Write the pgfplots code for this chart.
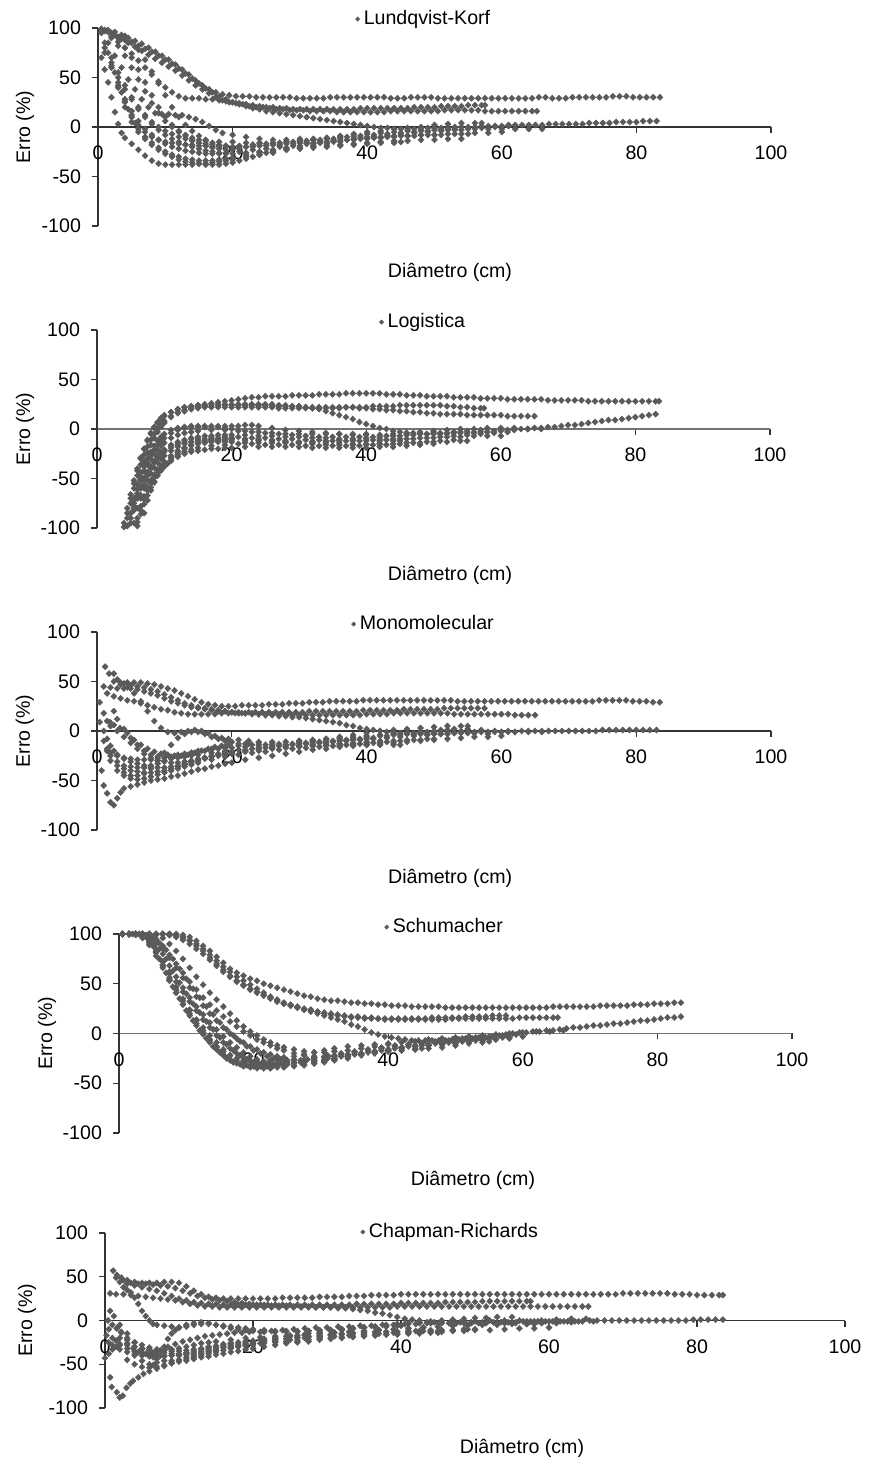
\documentclass[border=0pt]{standalone}
\usepackage{fontspec}
\setmainfont{Liberation Sans}
\usepackage{pgfplots}
\pgfplotsset{compat=1.18}
\definecolor{mk}{RGB}{90,90,90}
\newcommand{\fs}{\fontsize{9.8}{11}\selectfont}
\pgfplotsset{
 dp/.style={only marks, mark=diamond*, mark size=1.55pt, color=mk, mark options={fill=mk, draw=mk, line width=0.2pt, xscale=1.3}},
 panel/.style={scale only axis, clip=false, xmin=0, xmax=100, ymin=-100, ymax=100,
   axis x line=middle, axis y line=left, axis line style={-, line width=0.6pt, black!80},
   tick align=outside, major tick length=3pt, tick style={black!80, line width=0.6pt},
   xtick={0,20,40,60,80,100}, ytick={-100,-50,0,50,100},
   xticklabels={0,20,40,60,80,100}, yticklabels={-100,-50,0,50,100},
   hide obscured x ticks=false, hide obscured y ticks=false,
   font=\fs, tick label style={font=\fs},
   xticklabel style={yshift=-3pt}, yticklabel style={xshift=-2pt},
   xlabel={Diâmetro (cm)}, ylabel={Erro (\%)},
   legend style={draw=none, fill=none, anchor=west, inner sep=0pt, font=\fs},
   legend cell align=left,
   legend image code/.code={\draw[##1, mark size=1.1pt] plot coordinates {(0pt,0pt)};},
 }
}
\begin{document}
\begin{tikzpicture}
\path[use as bounding box] (0,0) rectangle (435pt,732pt);
% ---------------- Panel 1 ----------------
\begin{axis}[panel, anchor=south west, at={(49pt,619pt)}, width=336.5pt, height=99pt,
 every axis x label/.style={at={(axis description cs:0.523,-0.232)},anchor=center},
 every axis y label/.style={at={(axis description cs:-0.1085,0.5)},anchor=center,rotate=90},
 legend style={at={(axis description cs:0.382,1.045)}}]
\addplot[dp] coordinates {(0.5,99)(1.5,98)(2.5,96)(3.5,93)(4.5,90)(5.5,87)(6.5,84)(7.5,80)(8.5,76)(9.5,72)(10.5,68)(11.5,63)(12.5,58)(13.5,53)(14.5,47)(15.5,42)(16.5,38)(17.5,35)(18.5,33)(19.5,32)(20.5,31)(21.5,31)(22.5,31)(23.5,30)(24.5,30)(25.5,30)(26.5,30)(27.5,30)(28.5,30)(29.5,29)(30.5,29)(31.5,29)(32.5,29)(33.5,29)(34.5,30)(35.5,30)(36.5,30)(37.5,30)(38.5,30)(39.5,30)(40.5,30)(41.5,30)(42.5,30)(43.5,29)(44.5,29)(45.5,29)(46.5,30)(47.5,30)(48.5,30)(49.5,30)(50.5,29)(51.5,29)(52.5,29)(53.5,29)(54.5,29)(55.5,29)(56.5,29)(57.5,29)(58.5,29)(59.5,29)(60.5,29)(61.5,29)(62.5,29)(63.5,29)(64.5,29)(65.5,30)(66.5,30)(67.5,29)(68.5,29)(69.5,29)(70.5,30)(71.5,30)(72.5,30)(73.5,30)(74.5,30)(75.5,30)(76.5,31)(77.5,31)(78.5,31)(79.5,30)(80.5,30)(81.5,30)(82.5,30)(83.5,30)};
\addlegendentry{Lundqvist-Korf}
\addplot[dp] coordinates {(1,97)(2,92)(3,86)(4,80)(5,74)(6,67)(7,60)(8,53)(9,46)(10,40)(11,35)(12,31)(13,29)(14,29)(15,29)(16,28)(17,28)(18,27)(19,26)(20,25)(21,24)(22,23)(23,22)(24,21)(25,20)(26,20)(27,19)(28,19)(29,18)(30,18)(31,18)(32,18)(33,18)(34,18)(35,18)(36,18)(37,18)(38,18)(39,19)(40,19)(41,19)(42,19)(43,19)(44,19)(45,19)(46,19)(47,20)(48,20)(49,20)(50,20)(51,21)(52,21)(53,21)(54,21)(55,22)(56,22)(57,22)(57.5,22)};
\addplot[dp] coordinates {(0.5,99)(1.5,96)(2.5,93)(3.5,89)(4.5,85)(5.5,81)(6.5,77)(7.5,73)(8.5,69)(9.5,65)(10.5,61)(11.5,57)(12.5,52)(13.5,47)(14.5,42)(15.5,38)(16.5,34)(17.5,30)(18.5,27)(19.5,25)(20.5,24)(21.5,23)(22.5,21)(23.5,20)(24.5,20)(25.5,19)(26.5,18)(27.5,18)(28.5,17)(29.5,17)(30.5,17)(31.5,16)(32.5,16)(33.5,16)(34.5,16)(35.5,15)(36.5,15)(37.5,15)(38.5,15)(39.5,15)(40.5,15)(41.5,15)(42.5,15)(43.5,16)(44.5,16)(45.5,16)(46.5,16)(47.5,16)(48.5,16)(49.5,16)(50.5,16)(51.5,17)(52.5,17)(53.5,17)(54.5,17)(55.5,17)(56.5,17)(57.5,16)(58.5,16)(59.5,16)(60.5,16)(61.5,16)(62.5,16)(63.5,16)(64.5,16)(65.2,16)};
\addplot[dp] coordinates {(1,98)(2,95)(3,91)(4,88)(5,85)(6,82)(7,79)(8,76)(9,72)(10,68)(11,64)(12,59)(13,54)(14,49)(15,44)(16,39)(17,35)(18,31)(19,28)(20,25)(21,23)(22,21)(23,19)(24,18)(25,16)(26,15)(27,14)(28,13)(29,12)(30,11)(31,10)(32,9)(33,8)(34,7)(35,6)(36,5)(37,4)(38,3)(39,2)(40,1)(41,0)(42,-1)(43,-1)(44,-2)(45,-2)(46,-2)(47,-2)(48,-2)(49,-1)(50,-1)(51,-1)(52,-1)(53,0)(54,0)(55,0)(56,0)(57,1)(58,1)(59,1)(60,1)(61,2)(62,2)(63,2)(64,2)(65,2)(66,2)(67,3)(68,3)(69,3)(70,3)(71,3)(72,3)(73,4)(74,4)(75,4)(76,4)(77,5)(78,5)(79,5)(80,5)(81,6)(82,6)(83,6)};
\addplot[dp] coordinates {(0.5,95)(1.5,85)(2.5,72)(3.5,60)(4.5,48)(5.5,38)(6.5,28)(7.5,20)(8.5,14)(9.5,13)(10.5,13)(11.5,12)(12.5,12)(13.5,10)(14.5,8)(15.5,5)(16.5,1)(17.5,-3)(18.5,-6)(20,-8)(22,-10)(24,-12)(26,-13)(28,-13)(30,-12)(32,-12)(34,-11)(36,-10)(38,-8)(40,-7)(42,-6)(44,-5)(46,-4)(48,-4)(50,-3)(52,-3)(54,-3)(56,-2)(58,-2)(60,-2)(62,-2)(64,-2)(66,-2)};
\addplot[dp] coordinates {(0.5,70)(1,58)(1.5,45)(2,30)(2.5,15)(3,3)(3.5,-6)(4,-11)(5,-17)(6,-23)(7,-29)(8,-34)(9,-37)(10,-38)(11,-38)(12,-38)(13,-38)(14,-38)(15,-37)(16,-37)(17,-36)(18,-35)(19,-34)(20,-33)(22,-30)(24,-28)(26,-26)(28,-23)(30,-21)(32,-19)(34,-17)(36,-15)(38,-13)(40,-12)(42,-11)(44,-10)(46,-9)(48,-8)(50,-8)(52,-7)(54,-7)(56,-6)(58,-6)(60,-5)};
\addplot[dp] coordinates {(1,85)(1.5,75)(2,65)(2.5,55)(3,45)(3.5,35)(4,26)(4.5,18)(5,10)(5.5,4)(6,-2)(7,-10)(8,-16)(9,-21)(10,-25)(11,-28)(12,-30)(13,-32)(14,-33)(15,-34)(16,-34)(17,-34)(18,-33)(19,-32)(20,-31)(22,-28)(24,-26)(26,-24)(28,-22)(30,-21)(32,-20)(34,-19)(36,-18)(38,-17)(40,-16)(42,-15)(44,-14)(46,-14)(48,-13)(50,-13)(52,-12)(54,-12)};
\addplot[dp] coordinates {(1,75)(2,62)(3,50)(4,38)(5,28)(6,18)(7,10)(8,3)(9,-3)(10,-8)(11,-12)(12,-15)(13,-18)(14,-20)(15,-22)(16,-24)(17,-25)(18,-26)(19,-27)(20,-27)(22,-26)(24,-25)(26,-23)(28,-21)(30,-19)(32,-17)(34,-15)(36,-13)(38,-12)(40,-11)(42,-10)(44,-9)(46,-9)(48,-8)(50,-8)};
\addplot[dp] coordinates {(3,40)(4,20)(5,5)(6,-5)(7,-12)(8,-18)(9,-23)(10,-27)(11,-30)(12,-33)(13,-35)(14,-36)(15,-37)(16,-38)(17,-38)(18,-38)(19,-37)(20,-36)(21,-34)(22,-32)(23,-30)(24,-28)(25,-26)(26,-25)(28,-23)(30,-22)(32,-21)(34,-20)(36,-19)(38,-18)(40,-17)(42,-16)(44,-16)(45,-15)};
\addplot[dp] coordinates {(2,90)(3,82)(4,72)(5,60)(6,48)(7,36)(8,24)(9,14)(10,6)(11,0)(12,-5)(13,-9)(14,-13)(15,-16)(16,-19)(17,-21)(18,-22)(19,-23)(20,-23)(21,-22)(22,-20)(23,-18)(24,-17)(26,-16)(28,-15)(30,-14)(32,-13)(34,-12)(36,-11)(38,-10)(40,-10)};
\addplot[dp] coordinates {(2,60)(3,40)(4,25)(5,12)(6,2)(7,-5)(8,-10)(9,-13)(10,-15)(11,-16)(12,-17)(13,-18)(14,-18)(15,-19)(16,-19)(17,-20)(18,-20)(19,-20)(20,-20)(22,-20)(24,-19)(26,-18)(28,-17)(30,-16)(32,-16)(34,-15)(35,-15)};
\addplot[dp] coordinates {(3,90)(4,80)(5,70)(6,58)(7,45)(8,32)(9,20)(10,10)(11,2)(12,-4)(13,-8)(14,-11)(15,-13)(16,-14)(18,-15)(20,-15)(22,-16)(24,-16)(26,-16)(28,-15)(30,-14)(32,-13)(34,-11)(36,-9)(38,-7)(40,-5)(42,-4)(44,-2)(46,-1)(48,0)(50,2)(52,3)(54,4)(56,4)(57,4)};
\addplot[dp] coordinates {(1,80)(2,60)(3,42)(4,28)(5,16)(6,6)(7,-2)(8,-8)(9,-13)(10,-17)(11,-20)(12,-22)(13,-24)(14,-25)(15,-26)(16,-27)(17,-27)(18,-27)(19,-26)(21,-25)(23,-23)(25,-22)(27,-20)(29,-19)(31,-17)(33,-16)(35,-14)(37,-13)(39,-11)(41,-10)(43,-9)(45,-7)(47,-6)(49,-5)(51,-4)(53,-3)(55,-2)(57,-1)(59,0)};
\addplot[dp] coordinates {(4,92)(5,86)(6,78)(7,68)(8,56)(9,44)(10,32)(11,20)(12,10)(13,2)(14,-4)(15,-9)(16,-13)(17,-16)(18,-18)(19,-19)(21,-20)(23,-20)(25,-19)(27,-18)(29,-17)(31,-16)(33,-15)(35,-14)(37,-13)(39,-12)(41,-11)(43,-10)(45,-9)(47,-9)(49,-8)(51,-8)(53,-7)(55,-7)};
\addplot[dp] coordinates {(2,70)(3,55)(4,42)(5,30)(6,20)(7,12)(8,5)(9,0)(10,-4)(11,-7)(12,-10)(13,-12)(14,-14)(15,-16)(16,-17)(17,-18)(18,-19)(19,-19)(21,-19)(23,-18)(25,-17)(27,-16)(29,-15)(31,-14)(33,-13)(35,-12)(37,-10)(39,-9)(41,-8)(43,-7)(45,-6)(47,-5)(49,-4)(51,-3)(53,-2)(55,-1)(57,0)(59,1)(61,1)};
\end{axis}
% ---------------- Panel 2 ----------------
\begin{axis}[panel, anchor=south west, at={(48.5pt,468pt)}, width=336.5pt, height=99pt,
 x axis line style={black!55},
 every axis x label/.style={at={(axis description cs:0.5245,-0.237)},anchor=center},
 every axis y label/.style={at={(axis description cs:-0.107,0.5)},anchor=center,rotate=90},
 legend style={at={(axis description cs:0.419,1.040)}}]
\addplot[dp] coordinates {(4,-99)(4.5,-85)(5,-70)(5.5,-55)(6,-42)(6.5,-30)(7,-20)(7.5,-11)(8,-4)(8.5,2)(9,7)(9.5,11)(10,14)(11,17)(12,20)(13,22)(14,23)(15,24)(16,25)(17,26)(18,27)(19,28)(20,29)(21,30)(22,31)(23,32)(24,32)(25,33)(26,33)(27,33)(28,33)(29,34)(30,34)(31,34)(32,34)(33,35)(34,35)(35,35)(36,35)(37,36)(38,36)(39,36)(40,36)(41,36)(42,36)(43,35)(44,35)(45,35)(46,34)(47,34)(48,34)(49,33)(50,33)(51,33)(52,33)(53,32)(54,32)(55,32)(56,32)(57,31)(58,31)(59,31)(60,31)(61,30)(62,30)(63,30)(64,30)(65,30)(66,30)(67,29)(68,29)(69,29)(70,29)(71,29)(72,29)(73,28)(74,28)(75,28)(76,28)(77,28)(78,28)(79,28)(80,28)(81,28)(82,28)(83,28)(83.5,28)};
\addlegendentry{Logistica}
\addplot[dp] coordinates {(4,-95)(4.5,-80)(5,-66)(5.5,-52)(6,-40)(6.5,-29)(7,-20)(7.5,-12)(8,-5)(8.5,1)(9,6)(9.5,10)(10,13)(11,17)(12,20)(13,22)(14,23)(15,24)(16,24)(17,25)(18,25)(19,25)(20,25)(21,25)(22,25)(23,25)(24,25)(25,25)(26,25)(27,24)(28,24)(29,23)(30,23)(31,22)(32,21)(33,20)(34,18)(35,16)(36,14)(37,12)(38,10)(39,7)(40,5)(41,3)(42,1)(43,0)(44,-2)(45,-3)(46,-4)(47,-4)(48,-5)(49,-5)(50,-5)(51,-5)(52,-5)(53,-4)(54,-4)(55,-4)(56,-4)(57,-3)(58,-3)(59,-2)(60,-2)(61,-1)(62,-1)(63,0)(64,0)(65,1)(66,1)(67,2)(68,2)(69,3)(70,4)(71,4)(72,5)(73,6)(74,7)(75,8)(76,9)(77,9)(78,10)(79,11)(80,12)(81,13)(82,14)(83,15)};
\addplot[dp] coordinates {(4.5,-90)(5,-75)(5.5,-60)(6,-47)(6.5,-36)(7,-26)(7.5,-18)(8,-11)(8.5,-5)(9,0)(9.5,4)(10,8)(11,13)(12,17)(13,19)(14,21)(15,22)(16,23)(17,23)(18,24)(19,24)(20,24)(21,24)(22,24)(23,24)(24,24)(25,24)(26,23)(27,23)(28,23)(29,23)(30,23)(31,22)(32,22)(33,22)(34,22)(35,22)(36,22)(37,22)(38,22)(39,21)(40,21)(41,20)(42,20)(43,19)(44,19)(45,18)(46,18)(47,17)(48,17)(49,16)(50,16)(51,15)(52,15)(53,15)(54,15)(55,14)(56,14)(57,14)(58,14)(59,14)(60,14)(61,13)(62,13)(63,13)(64,13)(65,13)};
\addplot[dp] coordinates {(5,-85)(5.5,-70)(6,-56)(6.5,-44)(7,-33)(7.5,-24)(8,-16)(8.5,-9)(9,-3)(9.5,2)(10,6)(11,12)(12,16)(13,18)(14,20)(15,21)(16,22)(17,22)(18,22)(19,22)(20,22)(21,22)(22,22)(23,22)(24,22)(25,22)(26,22)(27,21)(28,21)(29,21)(30,21)(31,21)(32,21)(33,21)(34,21)(35,21)(36,21)(37,22)(38,22)(39,22)(40,22)(41,23)(42,23)(43,23)(44,23)(45,24)(46,24)(47,24)(48,24)(49,24)(50,24)(51,24)(52,23)(53,23)(54,22)(55,22)(56,21)(57,21)(57.5,21)};
\addplot[dp] coordinates {(5.5,-75)(6,-60)(6.5,-48)(7,-38)(7.5,-30)(8,-23)(8.5,-17)(9,-12)(9.5,-8)(10,-5)(11,-1)(12,1)(13,2)(14,3)(15,3)(16,3)(17,3)(18,3)(19,3)(20,3)(21,3)(22,4)(23,4)(24,3)(26,1)(28,-1)(30,-2)(32,-3)(34,-4)(36,-5)(38,-6)(40,-6)(42,-6)(44,-5)(46,-4)(48,-3)(50,-2)(52,-1)(54,0)(56,0)(58,1)(60,1)(62,1)(64,0)(66,0)};
\addplot[dp] coordinates {(5,-95)(5.5,-82)(6,-70)(6.5,-60)(7,-51)(7.5,-44)(8,-38)(8.5,-33)(9,-28)(9.5,-24)(10,-21)(11,-16)(12,-13)(13,-11)(14,-9)(15,-8)(16,-7)(17,-7)(18,-6)(19,-6)(20,-6)(22,-6)(24,-7)(26,-7)(28,-8)(30,-8)(32,-9)(34,-9)(36,-10)(38,-10)(40,-10)(42,-10)(44,-10)(46,-10)(48,-9)(50,-9)(52,-8)(54,-8)(56,-7)(58,-7)(60,-7)};
\addplot[dp] coordinates {(6,-90)(6.5,-78)(7,-68)(7.5,-59)(8,-52)(8.5,-46)(9,-41)(9.5,-37)(10,-33)(11,-27)(12,-22)(13,-19)(14,-16)(15,-14)(16,-13)(17,-12)(18,-11)(19,-11)(20,-10)(22,-10)(24,-10)(26,-11)(28,-12)(30,-13)(32,-13)(34,-14)(36,-14)(38,-15)(40,-15)(42,-15)(44,-15)(46,-14)(48,-14)(50,-13)(52,-13)(54,-12)(55,-12)};
\addplot[dp] coordinates {(6,-98)(6.5,-86)(7,-76)(7.5,-67)(8,-59)(8.5,-53)(9,-47)(9.5,-42)(10,-38)(10.5,-35)(11,-32)(12,-28)(13,-25)(14,-23)(15,-22)(16,-21)(17,-20)(18,-20)(19,-19)(20,-19)(22,-18)(24,-18)(26,-18)(28,-18)(30,-18)(32,-19)(34,-19)(36,-19)(38,-19)(40,-19)(42,-18)(44,-18)(46,-17)(48,-16)(50,-15)};
\addplot[dp] coordinates {(5,-90)(5.5,-78)(6,-67)(6.5,-58)(7,-50)(7.5,-44)(8,-38)(8.5,-33)(9,-29)(9.5,-26)(10,-23)(11,-19)(12,-16)(13,-14)(14,-13)(15,-12)(16,-12)(17,-11)(18,-11)(19,-11)(20,-11)(22,-12)(24,-12)(26,-12)(28,-13)(30,-13)(32,-13)(34,-12)(36,-12)(38,-12)(40,-12)(42,-12)(44,-12)(45,-12)};
\addplot[dp] coordinates {(5.5,-80)(6,-65)(6.5,-52)(7,-42)(7.5,-34)(8,-27)(8.5,-21)(9,-16)(9.5,-12)(10,-9)(11,-4)(12,-1)(13,1)(14,2)(15,2)(16,2)(17,2)(18,2)(19,1)(20,0)(22,-2)(24,-3)(26,-4)(28,-5)(30,-5)(32,-5)(34,-5)(36,-5)(38,-5)(40,-5)};
\addplot[dp] coordinates {(6.5,-70)(7,-60)(7.5,-52)(8,-45)(8.5,-39)(9,-34)(9.5,-30)(10,-27)(11,-22)(12,-18)(13,-15)(14,-13)(15,-11)(16,-10)(17,-10)(18,-9)(19,-9)(20,-9)(22,-10)(24,-11)(26,-12)(28,-13)(30,-14)(32,-15)(34,-16)(36,-16)(38,-16)(40,-16)(42,-15)};
\addplot[dp] coordinates {(7,-85)(7.5,-72)(8,-62)(8.5,-54)(9,-47)(9.5,-41)(10,-36)(11,-29)(12,-24)(13,-20)(14,-17)(15,-15)(16,-14)(17,-13)(18,-13)(19,-13)(20,-13)(22,-14)(24,-14)(26,-14)(28,-14)(30,-14)(32,-13)(34,-12)(36,-11)(38,-10)(40,-9)(42,-8)(44,-7)(46,-6)(48,-5)(50,-4)(52,-4)(54,-3)(56,-3)(58,-3)};
\addplot[dp] coordinates {(5.5,-95)(6,-80)(6.5,-67)(7,-56)(7.5,-47)(8,-40)(8.5,-34)(9,-29)(9.5,-25)(10,-22)(11,-17)(12,-14)(13,-12)(14,-10)(15,-9)(17,-8)(19,-8)(21,-8)(23,-9)(25,-9)(27,-10)(29,-10)(31,-11)(33,-11)(35,-12)(37,-12)(39,-12)(41,-11)(43,-11)(45,-10)(47,-10)(49,-9)(51,-8)(53,-7)(55,-6)(57,-5)(59,-4)(61,-3)};
\addplot[dp] coordinates {(4.5,-98)(5,-85)(5.5,-72)(6,-61)(6.5,-51)(7,-43)(7.5,-36)(8,-30)(8.5,-25)(9,-21)(9.5,-17)(10,-14)(11,-9)(12,-6)(13,-4)(14,-3)(15,-2)(17,-1)(19,-1)(21,-2)(23,-3)(25,-4)(27,-5)(29,-6)(31,-7)(33,-8)(35,-8)(37,-8)(39,-8)(41,-8)(43,-7)(45,-7)(47,-6)(49,-5)(51,-4)(53,-3)(55,-2)(57,-1)};
\addplot[dp] coordinates {(6,-94)(6.5,-82)(7,-71)(7.5,-62)(8,-55)(8.5,-49)(9,-44)(9.5,-40)(10,-36)(11,-30)(12,-26)(13,-23)(14,-21)(15,-19)(17,-17)(19,-16)(21,-15)(23,-15)(25,-16)(27,-16)(29,-16)(31,-17)(33,-17)(35,-17)(37,-17)(39,-17)(41,-16)(43,-16)(45,-15)(47,-14)(49,-13)(51,-12)(53,-11)};
\end{axis}
% ---------------- Panel 3 ----------------
\begin{axis}[panel, anchor=south west, at={(48.5pt,317pt)}, width=337pt, height=99pt,
 every axis x label/.style={at={(axis description cs:0.524,-0.242)},anchor=center},
 every axis y label/.style={at={(axis description cs:-0.107,0.5)},anchor=center,rotate=90},
 legend style={at={(axis description cs:0.377,1.040)}}]
\addplot[dp] coordinates {(1.2,65)(1.8,58)(2.5,50)(3.5,49)(4.5,49)(5.5,49)(6.5,49)(7.5,48)(8.5,47)(9.5,45)(10.5,43)(11.5,41)(12.5,38)(13.5,35)(14.5,32)(15.5,29)(16.5,27)(17.5,26)(18.5,25)(19.5,25)(20.5,25)(21.5,26)(22.5,26)(23.5,26)(24.5,26)(25.5,27)(26.5,27)(27.5,27)(28.5,28)(29.5,28)(30.5,28)(31.5,29)(32.5,29)(33.5,29)(34.5,30)(35.5,30)(36.5,30)(37.5,30)(38.5,30)(39.5,31)(40.5,31)(41.5,31)(42.5,31)(43.5,31)(44.5,31)(45.5,31)(46.5,31)(47.5,31)(48.5,31)(49.5,31)(50.5,31)(51.5,31)(52.5,31)(53.5,30)(54.5,30)(55.5,30)(56.5,30)(57.5,30)(58.5,30)(59.5,30)(60.5,30)(61.5,30)(62.5,30)(63.5,30)(64.5,30)(65.5,30)(66.5,30)(67.5,30)(68.5,30)(69.5,30)(70.5,30)(71.5,30)(72.5,30)(73.5,30)(74.5,31)(75.5,31)(76.5,31)(77.5,31)(78.5,31)(79.5,30)(80.5,30)(81.5,30)(82.5,29)(83.5,29)};
\addlegendentry{Monomolecular}
\addplot[dp] coordinates {(1,45)(2,44)(3,43)(4,43)(5,43)(6,42)(7,40)(8,38)(9,36)(10,33)(11,30)(12,28)(13,26)(14,24)(15,23)(16,22)(17,21)(18,20)(19,20)(20,19)(21,19)(22,18)(23,18)(24,17)(25,17)(26,17)(27,17)(28,16)(29,16)(30,16)(31,16)(32,16)(33,16)(34,16)(35,16)(36,16)(37,16)(38,16)(39,16)(40,17)(41,17)(42,17)(43,17)(44,18)(45,18)(46,18)(47,18)(48,18)(49,18)(50,18)(51,18)(52,18)(53,17)(54,17)(55,17)(56,17)(57,17)(58,17)(59,17)(60,17)(61,17)(62,16)(63,16)(64,16)(65,16)};
\addplot[dp] coordinates {(1.5,38)(2.5,35)(3.5,33)(4.5,31)(5.5,30)(6.5,28)(7.5,26)(8.5,24)(9.5,22)(10.5,21)(11.5,19)(12.5,18)(13.5,17)(14.5,17)(15.5,17)(16.5,17)(17.5,17)(18.5,18)(19.5,18)(20.5,18)(21.5,18)(22.5,19)(23.5,19)(24.5,19)(25.5,19)(26.5,19)(27.5,19)(28.5,19)(29.5,19)(30.5,19)(31.5,20)(32.5,20)(33.5,20)(34.5,20)(35.5,20)(36.5,20)(37.5,20)(38.5,20)(39.5,21)(40.5,21)(41.5,21)(42.5,21)(43.5,21)(44.5,21)(45.5,22)(46.5,22)(47.5,22)(48.5,22)(49.5,22)(50.5,22)(51.5,23)(52.5,23)(53.5,23)(54.5,23)(55.5,23)(56.5,23)(57.5,23)};
\addplot[dp] coordinates {(2.5,58)(3,52)(4,48)(5,46)(6,45)(7,44)(8,42)(9,40)(10,37)(11,34)(12,31)(13,28)(14,26)(15,24)(16,23)(17,22)(18,21)(19,20)(20,19)(21,18)(22,18)(23,17)(24,17)(25,16)(26,16)(27,15)(28,15)(29,14)(30,14)(31,13)(32,12)(33,11)(34,10)(35,9)(36,8)(37,6)(38,5)(39,3)(40,2)(41,1)(42,0)(43,-1)(44,-2)(45,-2)(46,-3)(47,-3)(48,-3)(49,-3)(50,-3)(51,-3)(52,-3)(53,-2)(54,-2)(55,-2)(56,-2)(57,-1)(58,-1)(59,-1)(60,-1)(61,-1)(62,-1)(63,0)(64,0)(65,0)(66,0)(67,0)(68,0)(69,0)(70,0)(71,0)(72,0)(73,0)(74,0)(75,1)(76,1)(77,1)(78,1)(79,1)(80,1)(81,1)(82,1)(83,1)};
\addplot[dp] coordinates {(3.5,47)(4.5,44)(5.5,38)(6.5,30)(7.5,20)(8.5,10)(9.5,3)(10.5,-1)(11.5,-2)(12.5,-1)(13.5,0)(14.5,1)(15.5,0)(16.5,-2)(17.5,-5)(18.5,-7)(19.5,-8)(21,-9)(22.5,-10)(24,-11)(26,-11)(28,-11)(30,-10)(32,-10)(34,-9)(36,-8)(38,-7)(40,-6)(42,-5)(44,-4)(46,-3)(48,-2)(50,-2)(52,-1)(54,-1)(56,-1)(58,-1)(60,-1)(62,-1)(64,-1)(66,-1)};
\addplot[dp] coordinates {(0.7,-40)(1,-55)(1.5,-63)(2,-72)(2.5,-75)(3,-68)(3.5,-62)(4,-58)(5,-56)(6,-54)(7,-52)(8,-50)(9,-49)(10,-48)(11,-46)(12,-45)(13,-43)(14,-41)(15,-39)(16,-38)(17,-36)(18,-35)(19,-33)(20,-32)(22,-29)(24,-27)(26,-25)(28,-23)(30,-21)(32,-19)(34,-18)(36,-16)(38,-15)(40,-14)(42,-13)(44,-12)(46,-11)(48,-10)(50,-9)(52,-8)(54,-7)(56,-6)(58,-6)(60,-5)};
\addplot[dp] coordinates {(0.4,29)(1,18)(1.5,10)(2,5)(3,0)(4,-6)(5,-12)(6,-18)(7,-23)(8,-27)(9,-30)(10,-31)(11,-32)(12,-32)(13,-31)(14,-30)(15,-28)(16,-27)(17,-26)(18,-24)(19,-23)(20,-22)(22,-20)(24,-18)(26,-16)(28,-14)(30,-12)(32,-10)(34,-8)(36,-6)(38,-4)(40,-2)(42,0)(44,1)(46,2)(48,3)(50,4)(52,5)(54,5)(55,5)};
\addplot[dp] coordinates {(0.4,9)(1,0)(1.5,-8)(2,-15)(2.5,-20)(3,-24)(4,-28)(5,-31)(6,-33)(7,-35)(8,-36)(9,-37)(10,-37)(11,-36)(12,-35)(13,-33)(14,-31)(15,-29)(16,-27)(17,-25)(18,-23)(19,-22)(20,-21)(22,-19)(24,-18)(26,-17)(28,-16)(30,-15)(32,-14)(34,-13)(36,-13)(38,-12)(40,-11)(42,-10)(44,-10)(46,-9)(48,-9)(50,-8)};
\addplot[dp] coordinates {(1.5,-20)(2,-22)(3,-25)(4,-27)(5,-28)(6,-29)(7,-29)(8,-29)(9,-28)(10,-27)(11,-26)(12,-24)(13,-23)(14,-22)(15,-21)(16,-20)(17,-19)(18,-18)(19,-17)(20,-17)(22,-16)(24,-16)(26,-15)(28,-15)(30,-15)(32,-15)(34,-15)(36,-15)(38,-14)(40,-14)(42,-14)(44,-14)(45,-14)};
\addplot[dp] coordinates {(4,-42)(5,-45)(6,-45)(7,-43)(8,-38)(9,-30)(10,-22)(11,-14)(12,-7)(13,-3)(14,-1)(15,-1)(16,-3)(17,-6)(18,-8)(19,-10)(20,-11)(22,-13)(24,-14)(26,-14)(28,-14)(30,-13)(32,-12)(34,-11)(36,-10)(38,-9)(40,-8)};
\addplot[dp] coordinates {(2,-30)(3,-35)(4,-38)(5,-40)(6,-41)(7,-42)(8,-42)(9,-41)(10,-40)(11,-38)(12,-36)(13,-34)(14,-32)(15,-30)(16,-28)(17,-26)(18,-25)(19,-24)(20,-23)(22,-21)(24,-20)(26,-18)(28,-17)(30,-16)(32,-15)(34,-14)(36,-13)(38,-13)(40,-12)(42,-12)};
\addplot[dp] coordinates {(1.9,9)(2.5,6)(3.4,3)(4.5,-2)(5.5,-9)(6.5,-14)(7.5,-18)(8.5,-21)(9.5,-23)(10.5,-24)(11.5,-25)(12.5,-25)(13.5,-24)(14.5,-22)(15.5,-20)(16.5,-18)(17.5,-16)(18.5,-15)(19.5,-14)(21,-13)(22.5,-13)(24,-12)(26,-12)(28,-11)(30,-10)(32,-9)(34,-8)(36,-7)(38,-6)(40,-5)(42,-4)(44,-3)(46,-2)(48,-1)(50,0)(52,1)(54,0)(56,-2)(58,-3)};
\addplot[dp] coordinates {(1,-10)(1.5,-18)(2,-25)(3,-31)(4,-35)(5,-36)(6,-37)(7,-37)(8,-35)(9,-33)(10,-30)(11,-28)(12,-27)(13,-26)(14,-25)(15,-24)(17,-22)(19,-20)(21,-19)(23,-18)(25,-17)(27,-15)(29,-14)(31,-13)(33,-12)(35,-11)(37,-10)(39,-9)(41,-8)(43,-7)(45,-6)(47,-5)(49,-4)(51,-3)(53,-2)(55,-1)(57,0)(59,0)(61,0)};
\addplot[dp] coordinates {(2.5,20)(3,12)(4,2)(5,-7)(6,-14)(7,-20)(8,-24)(9,-26)(10,-27)(11,-27)(12,-26)(13,-24)(14,-22)(15,-20)(17,-18)(19,-16)(21,-15)(23,-14)(25,-14)(27,-13)(29,-13)(31,-12)(33,-11)(35,-10)(37,-9)(39,-8)(41,-7)(43,-5)(45,-4)(47,-2)(49,-1)(51,1)(53,2)(55,2)(57,1)};
\addplot[dp] coordinates {(3,-40)(4,-45)(5,-48)(6,-49)(7,-48)(8,-46)(9,-44)(10,-42)(11,-40)(12,-38)(13,-36)(14,-34)(15,-32)(17,-29)(19,-26)(21,-24)(23,-22)(25,-21)(27,-19)(29,-18)(31,-17)(33,-16)(35,-15)(37,-14)(39,-13)(41,-12)(43,-11)(45,-10)(47,-9)(49,-8)};
\end{axis}
% ---------------- Panel 4 ----------------
\begin{axis}[panel, anchor=south west, at={(59.5pt,165.5pt)}, width=336.5pt, height=99.5pt,
 x axis line style={black!55},
 every axis x label/.style={at={(axis description cs:0.526,-0.236)},anchor=center},
 every axis y label/.style={at={(axis description cs:-0.107,0.5)},anchor=center,rotate=90},
 legend style={at={(axis description cs:0.394,1.035)}}]
\addplot[dp] coordinates {(0.5,100)(1.5,100)(2.5,100)(3.5,100)(4.5,100)(5.5,100)(6.5,100)(7.5,100)(8.5,100)(9.5,99)(10.5,97)(11.5,93)(12.5,88)(13.5,83)(14.5,77)(15.5,71)(16.5,65)(17.5,61)(18.5,58)(19.5,55)(20.5,53)(21.5,50)(22.5,48)(23.5,46)(24.5,44)(25.5,42)(26.5,40)(27.5,38)(28.5,37)(29.5,35)(30.5,34)(31.5,33)(32.5,33)(33.5,32)(34.5,31)(35.5,31)(36.5,30)(37.5,30)(38.5,29)(39.5,29)(40.5,28)(41.5,28)(42.5,28)(43.5,27)(44.5,27)(45.5,27)(46.5,27)(47.5,27)(48.5,26)(49.5,26)(50.5,26)(51.5,26)(52.5,26)(53.5,26)(54.5,26)(55.5,26)(56.5,26)(57.5,26)(58.5,26)(59.5,26)(60.5,26)(61.5,26)(62.5,26)(63.5,26)(64.5,27)(65.5,27)(66.5,27)(67.5,27)(68.5,27)(69.5,27)(70.5,27)(71.5,28)(72.5,28)(73.5,28)(74.5,28)(75.5,28)(76.5,29)(77.5,29)(78.5,29)(79.5,30)(80.5,30)(81.5,30)(82.5,31)(83.5,31)};
\addlegendentry{Schumacher}
\addplot[dp] coordinates {(0.5,100)(1.5,100)(2.5,100)(3.5,100)(4.5,100)(5.5,100)(6.5,100)(7.5,99)(8.5,98)(9.5,96)(10.5,93)(11.5,88)(12.5,83)(13.5,76)(14.5,70)(15.5,64)(16.5,58)(17.5,53)(18.5,49)(19.5,45)(20.5,42)(21.5,39)(22.5,36)(23.5,33)(24.5,30)(25.5,28)(26.5,26)(27.5,24)(28.5,23)(29.5,22)(30.5,20)(31.5,19)(32.5,18)(33.5,17)(34.5,16)(35.5,16)(36.5,15)(37.5,15)(38.5,15)(39.5,14)(40.5,14)(41.5,14)(42.5,14)(43.5,14)(44.5,14)(45.5,14)(46.5,14)(47.5,14)(48.5,14)(49.5,15)(50.5,15)(51.5,15)(52.5,15)(53.5,15)(54.5,15)(55.5,15)(56.5,15)(57.5,15)(58.5,15)(59.5,16)(60.5,16)(61.5,16)(62.5,16)(63.5,16)(64.5,16)(65.2,16)};
\addplot[dp] coordinates {(0.5,100)(1.5,100)(2.5,100)(3.5,100)(4.5,100)(5.5,100)(6.5,100)(7.5,100)(8.5,99)(9.5,97)(10.5,94)(11.5,90)(12.5,85)(13.5,79)(14.5,73)(15.5,67)(16.5,62)(17.5,57)(18.5,53)(19.5,49)(20.5,45)(21.5,41)(22.5,37)(23.5,34)(24.5,31)(25.5,29)(26.5,27)(27.5,25)(28.5,24)(29.5,22)(30.5,21)(31.5,20)(32.5,19)(33.5,18)(34.5,17)(35.5,17)(36.5,16)(37.5,16)(38.5,15)(39.5,15)(40.5,15)(41.5,15)(42.5,15)(43.5,15)(44.5,15)(45.5,15)(46.5,16)(47.5,16)(48.5,16)(49.5,16)(50.5,16)(51.5,17)(52.5,17)(53.5,17)(54.5,17)(55.5,18)(56.5,18)(57.5,18)};
\addplot[dp] coordinates {(0.5,100)(1.5,100)(2.5,100)(3.5,100)(4.5,100)(5.5,100)(6.5,100)(7.5,99)(8.5,97)(9.5,94)(10.5,90)(11.5,85)(12.5,80)(13.5,74)(14.5,68)(15.5,62)(16.5,57)(17.5,52)(18.5,48)(19.5,44)(20.5,41)(21.5,38)(22.5,35)(23.5,32)(24.5,30)(25.5,28)(26.5,26)(27.5,24)(28.5,22)(29.5,20)(30.5,18)(31.5,16)(32.5,14)(33.5,12)(34.5,9)(35.5,7)(36.5,4)(37.5,1)(38.5,-1)(39.5,-3)(40.5,-4)(41.5,-5)(42.5,-6)(43.5,-7)(44.5,-7)(45.5,-7)(46.5,-7)(47.5,-7)(48.5,-7)(49.5,-6)(50.5,-6)(51.5,-5)(52.5,-5)(53.5,-4)(54.5,-4)(55.5,-3)(56.5,-2)(57.5,-1)(58.5,0)(59.5,1)(60.5,1)(61.5,2)(62.5,2)(63.5,3)(64.5,3)(65.5,4)(66.5,5)(67.5,6)(68.5,6)(69.5,7)(70.5,8)(71.5,8)(72.5,9)(73.5,10)(74.5,10)(75.5,11)(76.5,12)(77.5,13)(78.5,13)(79.5,14)(80.5,15)(81.5,16)(82.5,16)(83.5,17)};
\addplot[dp] coordinates {(0.5,100)(1.5,100)(2.5,100)(3.5,100)(4.5,100)(5.5,99)(6.5,96)(7.5,90)(8.5,83)(9.5,75)(10.5,66)(11.5,57)(12.5,49)(13.5,41)(14.5,34)(15.5,27)(16.5,20)(17.5,13)(18.5,7)(19.5,2)(20.5,-2)(21.5,-6)(22.5,-9)(23.5,-12)(24.5,-14)(26,-16)(27.5,-18)(29,-19)(30.5,-19)(32,-18)(34,-17)(36,-15)(38,-13)(40,-11)(42,-9)(44,-8)(46,-6)(48,-5)(50,-4)(52,-3)(54,-2)(56,-1)(58,0)(60,1)(62,2)(64,2)(66,3)};
\addplot[dp] coordinates {(0.5,100)(1.5,100)(2.5,100)(3.5,100)(4.5,99)(5.5,95)(6.5,88)(7.5,79)(8.5,70)(9.5,61)(10.5,52)(11.5,44)(12.5,36)(13.5,29)(14.5,23)(15.5,17)(16.5,12)(17.5,7)(18.5,2)(19.5,-2)(20.5,-6)(21.5,-9)(22.5,-12)(23.5,-15)(24.5,-17)(26,-20)(27.5,-22)(29,-23)(30.5,-23)(32,-23)(34,-22)(36,-20)(38,-18)(40,-16)(42,-14)(44,-12)(46,-11)(48,-10)(50,-9)(52,-8)(54,-7)(56,-6)(58,-4)(60,-3)};
\addplot[dp] coordinates {(0.5,100)(1.5,100)(2.5,100)(3.5,99)(4.5,94)(5.5,85)(6.5,72)(7.5,60)(8.5,47)(9.5,35)(10.5,24)(11.5,13)(12.5,3)(13.5,-6)(14.5,-14)(15.5,-21)(16.5,-26)(17.5,-30)(18.5,-33)(19.5,-34)(20.5,-35)(21.5,-35)(22.5,-35)(23.5,-34)(24.5,-34)(26,-33)(27.5,-32)(29,-30)(30.5,-28)(32,-26)(34,-23)(36,-20)(38,-18)(40,-16)(42,-14)(44,-13)(46,-12)(48,-11)(50,-10)(52,-10)(54,-9)(55,-8)};
\addplot[dp] coordinates {(0.5,100)(1.5,100)(2.5,100)(3.5,98)(4.5,92)(5.5,83)(6.5,72)(7.5,62)(8.5,52)(9.5,42)(10.5,32)(11.5,23)(12.5,14)(13.5,6)(14.5,-2)(15.5,-9)(16.5,-15)(17.5,-20)(18.5,-24)(19.5,-27)(20.5,-29)(21.5,-31)(22.5,-32)(23.5,-32)(24.5,-32)(26,-32)(27.5,-31)(29,-30)(30.5,-29)(32,-27)(34,-25)(36,-22)(38,-20)(40,-18)(42,-17)(44,-16)(46,-15)(48,-14)(50,-12)};
\addplot[dp] coordinates {(0.5,100)(1.5,100)(2.5,100)(3.5,99)(4.5,96)(5.5,90)(6.5,80)(7.5,68)(8.5,57)(9.5,46)(10.5,36)(11.5,27)(12.5,19)(13.5,11)(14.5,4)(15.5,-3)(16.5,-9)(17.5,-14)(18.5,-19)(19.5,-23)(20.5,-26)(21.5,-28)(22.5,-29)(23.5,-30)(24.5,-30)(26,-30)(27.5,-29)(29,-28)(30.5,-27)(32,-25)(34,-23)(36,-21)(38,-19)(40,-18)(42,-17)(44,-16)(45,-15)};
\addplot[dp] coordinates {(0.5,100)(1.5,100)(2.5,99)(3.5,96)(4.5,89)(5.5,78)(6.5,66)(7.5,53)(8.5,41)(9.5,30)(10.5,20)(11.5,10)(12.5,1)(13.5,-7)(14.5,-13)(15.5,-18)(16.5,-22)(17.5,-25)(18.5,-27)(19.5,-28)(20.5,-28)(21.5,-28)(22.5,-27)(23.5,-26)(24.5,-25)(26,-23)(27.5,-21)(29,-19)(30.5,-17)(32,-15)(34,-13)(36,-12)(38,-11)(40,-10)};
\addplot[dp] coordinates {(0.5,100)(1.5,100)(2.5,100)(3.5,100)(4.5,98)(5.5,93)(6.5,85)(7.5,76)(8.5,66)(9.5,56)(10.5,46)(11.5,37)(12.5,28)(13.5,20)(14.5,13)(15.5,6)(16.5,0)(17.5,-5)(18.5,-9)(19.5,-13)(20.5,-16)(21.5,-19)(22.5,-21)(23.5,-23)(24.5,-24)(26,-26)(27.5,-27)(29,-27)(30.5,-26)(32,-25)(34,-23)(36,-21)(38,-19)(40,-17)(42,-14)};
\addplot[dp] coordinates {(0.5,100)(1.5,100)(2.5,100)(3.5,97)(4.5,91)(5.5,81)(6.5,69)(7.5,56)(8.5,44)(9.5,33)(10.5,23)(11.5,14)(12.5,6)(13.5,-2)(14.5,-9)(15.5,-16)(16.5,-22)(17.5,-27)(18.5,-30)(19.5,-32)(20.5,-33)(21.5,-33)(22.5,-33)(23.5,-32)(24.5,-31)(26,-29)(27.5,-27)(29,-25)(30.5,-24)(32,-22)(34,-21)(36,-20)(38,-18)(40,-17)(42,-15)(44,-13)(46,-12)(48,-11)(50,-10)(52,-8)(54,-7)(56,-6)(58,-5)};
\addplot[dp] coordinates {(0.5,100)(1.5,100)(2.5,100)(3.5,99)(4,97)(4.5,93)(5,88)(5.5,82)(6,75)(6.5,68)(7,61)(7.5,54)(8,47)(8.5,41)(9,35)(9.5,29)(10,23)(10.5,18)(11,13)(11.5,8)(12,3)(12.5,-1)(13,-5)(13.5,-9)(14,-13)(14.5,-16)(15,-19)(15.5,-22)(16,-25)(16.5,-27)(17,-29)(18,-31)(19,-32)(20,-33)(21,-33)(22,-33)(23,-32)(25,-31)(27,-29)(29,-27)(31,-25)(33,-23)(35,-21)(37,-19)(39,-17)(41,-15)(43,-13)(45,-12)(47,-10)(49,-9)(51,-8)(53,-7)};
\addplot[dp] coordinates {(3,100)(4,99)(5,96)(6,91)(7,84)(8,75)(9,65)(10,55)(11,45)(12,36)(13,27)(14,19)(15,11)(16,4)(17,-2)(18,-8)(19,-13)(20,-17)(21,-20)(22,-23)(23,-25)(24,-26)(25,-27)(26,-27)(27,-27)(28,-26)(29,-25)(31,-23)(33,-21)(35,-19)(37,-17)(39,-15)(41,-13)(43,-11)(45,-10)(47,-8)(49,-7)(51,-5)(53,-4)(55,-3)(57,-2)(59,-1)};
\addplot[dp] coordinates {(2,100)(3,100)(4,98)(5,93)(6,85)(7,75)(8,63)(9,51)(10,40)(11,30)(12,21)(13,12)(14,4)(15,-4)(16,-11)(17,-17)(18,-22)(19,-26)(20,-29)(21,-31)(22,-31)(23,-31)(24,-30)(25,-29)(27,-27)(29,-24)(31,-22)(33,-20)(35,-18)(37,-16)(39,-14)(41,-12)(43,-11)(45,-10)(47,-9)(49,-8)(51,-7)(53,-6)(55,-5)(57,-4)};
\end{axis}
% ---------------- Panel 5 ----------------
\begin{axis}[panel, anchor=south west, at={(52.5pt,28pt)}, width=370pt, height=87.5pt,
 every axis x label/.style={at={(axis description cs:0.5635,-0.229)},anchor=center},
 every axis y label/.style={at={(axis description cs:-0.1054,0.5)},anchor=center,rotate=90},
 legend style={at={(axis description cs:0.345,1.006)}}]
\addplot[dp] coordinates {(1.1,57)(1.6,52)(2.2,49)(3,46)(4,44)(5,43)(6,43)(7,43)(8,44)(9,44)(10,43)(11,39)(12,34)(13,30)(14,27)(15,26)(16,25)(17,25)(18,25)(19,25)(20,25)(21,25)(22,25)(23,25)(24,26)(25,26)(26,26)(27,26)(28,26)(29,27)(30,27)(31,27)(32,27)(33,28)(34,28)(35,28)(36,29)(37,29)(38,29)(39,29)(40,30)(41,30)(42,30)(43,30)(44,30)(45,30)(46,30)(47,30)(48,30)(49,30)(50,30)(51,30)(52,30)(53,30)(54,30)(55,30)(56,30)(57,30)(58,30)(59,30)(60,30)(61,30)(62,30)(63,30)(64,30)(65,30)(66,30)(67,30)(68,30)(69,30)(70,31)(71,31)(72,31)(73,31)(74,31)(75,31)(76,31)(77,30)(78,30)(79,30)(80,29)(81,29)(82,29)(83,29)(83.5,29)};
\addlegendentry{Chapman-Richards}
\addplot[dp] coordinates {(1.5,49)(2.5,46)(3.5,43)(4.5,42)(5.5,42)(6.5,41)(7.5,40)(8.5,39)(9.5,37)(10.5,34)(11.5,31)(12.5,28)(13.5,26)(14.5,24)(15.5,23)(16.5,22)(17.5,21)(18.5,20)(19.5,19)(20.5,18)(21.5,18)(22.5,17)(23.5,17)(24.5,17)(25.5,16)(26.5,16)(27.5,16)(28.5,15)(29.5,15)(30.5,15)(31.5,14)(32.5,14)(33.5,13)(34.5,12)(35.5,11)(36.5,9)(37.5,8)(38.5,6)(39.5,4)(40.5,2)(41.5,1)(42.5,0)(43.5,-2)(44.5,-2)(45.5,-3)(46.5,-3)(47.5,-3)(48.5,-3)(49.5,-3)(50.5,-3)(51.5,-3)(52.5,-2)(53.5,-2)(54.5,-2)(55.5,-2)(56.5,-1)(57.5,-1)(58.5,-1)(59.5,-1)(60.5,-1)(61.5,-1)(62.5,-1)(63.5,-1)(64.5,-1)(65.5,0)(66.5,0)(67.5,0)(68.5,0)(69.5,0)(70.5,0)(71.5,0)(72.5,0)(73.5,0)(74.5,0)(75.5,0)(76.5,0)(77.5,0)(78.5,0)(79.5,1)(80.5,1)(81.5,1)(82.5,1)(83.5,1)};
\addplot[dp] coordinates {(0.7,31)(1.5,30)(2.5,30)(3.5,29)(4.5,28)(5.5,27)(6.5,26)(7.5,25)(8.5,24)(9.5,23)(10.5,21)(11.5,19)(12.5,17)(13.5,16)(14.5,16)(15.5,15)(16.5,15)(17.5,15)(18.5,15)(19.5,15)(20.5,15)(21.5,15)(22.5,15)(23.5,15)(24.5,15)(25.5,15)(26.5,15)(27.5,15)(28.5,15)(29.5,15)(30.5,15)(31.5,15)(32.5,15)(33.5,15)(34.5,15)(35.5,15)(36.5,15)(37.5,15)(38.5,15)(39.5,16)(40.5,16)(41.5,16)(42.5,16)(43.5,16)(44.5,16)(45.5,16)(46.5,16)(47.5,16)(48.5,16)(49.5,16)(50.5,16)(51.5,16)(52.5,16)(53.5,16)(54.5,16)(55.5,16)(56.5,16)(57.5,16)(58.5,16)(59.5,16)(60.5,16)(61.5,16)(62.5,16)(63.5,16)(64.5,16)(65.3,16)};
\addplot[dp] coordinates {(2,44)(3,42)(4,40)(5,38)(6,36)(7,34)(8,31)(9,28)(10,25)(11,23)(12,21)(13,20)(14,19)(15,19)(16,18)(17,18)(18,18)(19,18)(20,18)(21,18)(22,18)(23,18)(24,18)(25,18)(26,18)(27,18)(28,18)(29,18)(30,18)(31,18)(32,18)(33,18)(34,19)(35,19)(36,19)(37,19)(38,19)(39,19)(40,20)(41,20)(42,20)(43,20)(44,20)(45,20)(46,21)(47,21)(48,21)(49,21)(50,21)(51,22)(52,22)(53,22)(54,22)(55,22)(56,22)(57,22)(57.5,22)};
\addplot[dp] coordinates {(2.5,38)(3,35)(3.5,32)(4,26)(4.5,19)(5,11)(5.5,5)(6,0)(6.5,-4)(7,-5)(8,-6)(9,-7)(10,-8)(11,-7)(12,-5)(13,-4)(14,-4)(15,-5)(16,-6)(17,-7)(18,-8)(19,-9)(20,-10)(21.5,-11)(23,-12)(24.5,-12)(26,-12)(27.5,-12)(29,-11)(30.5,-11)(32,-10)(33.5,-9)(35,-8)(36.5,-7)(38,-6)(39.5,-5)(41,-4)(42.5,-3)(44,-3)(45.5,-2)(47,-2)(48.5,-1)(50,-1)(52,0)(54,0)(56,0)(58,-1)(60,-1)(62,-1)(64,-1)(66,-1)};
\addplot[dp] coordinates {(0.7,-65)(0.9,-76)(1.6,-82)(2,-88)(2.4,-86)(2.9,-77)(3.4,-72)(3.8,-69)(4.5,-65)(5.2,-61)(6,-58)(7,-55)(8,-52)(9,-49)(10,-47)(11,-46)(12,-44)(13,-42)(14,-41)(15,-39)(16,-38)(17,-36)(18,-35)(19,-33)(20,-32)(21.5,-30)(23,-28)(24.5,-26)(26,-25)(27.5,-24)(29,-22)(30.5,-21)(32,-20)(33.5,-19)(35,-18)(36.5,-17)(38,-16)(39.5,-15)(41,-14)(42.5,-14)(44,-13)(45.5,-13)(47,-12)(48.5,-12)(50,-11)(52,-11)(54,-10)(56,-9)(58,-9)(60,-8)};
\addplot[dp] coordinates {(0.2,-17)(0.5,-10)(1,-5)(1.6,-9)(2.2,-14)(3,-20)(4,-25)(5,-28)(6,-31)(7,-33)(8,-34)(9,-35)(10,-35)(11,-34)(12,-33)(13,-32)(14,-30)(15,-29)(16,-27)(17,-26)(18,-25)(19,-24)(20,-23)(21.5,-21)(23,-20)(24.5,-18)(26,-17)(27.5,-15)(29,-14)(30.5,-12)(32,-11)(33.5,-9)(35,-8)(36.5,-7)(38,-5)(39.5,-4)(41,-3)(42.5,-2)(44,-1)(45.5,0)(47,1)(48.5,2)(50,3)(51.5,3)(53,4)(55,4)};
\addplot[dp] coordinates {(0,-43)(0.5,-38)(1,-33)(1.5,-30)(2,-28)(3,-28)(4,-30)(5,-32)(6,-34)(7,-36)(8,-37)(9,-38)(10,-38)(11,-37)(12,-36)(13,-35)(14,-33)(15,-31)(16,-29)(17,-28)(18,-27)(19,-26)(20,-25)(21.5,-23)(23,-22)(24.5,-21)(26,-20)(27.5,-19)(29,-18)(30.5,-17)(32,-16)(33.5,-15)(35,-15)(36.5,-14)(38,-13)(39.5,-13)(41,-12)(42.5,-12)(44,-11)(45.5,-11)(47,-11)(48.5,-10)(50,-10)};
\addplot[dp] coordinates {(0.4,0)(0.7,11)(1.2,5)(2,-5)(3,-15)(4,-25)(5,-33)(6,-39)(6.5,-42)(7,-44)(8,-46)(9,-46)(10,-45)(11,-44)(12,-42)(13,-40)(14,-38)(15,-36)(16,-34)(17,-32)(18,-30)(19,-29)(20,-28)(21.5,-26)(23,-25)(24.5,-24)(26,-23)(27.5,-22)(29,-21)(30.5,-20)(32,-19)(33.5,-18)(35,-17)(36.5,-17)(38,-16)(39.5,-16)(41,-15)(42.5,-15)(44,-14)(45,-14)};
\addplot[dp] coordinates {(4,-40)(5,-46)(6,-50)(6.5,-51)(7,-48)(7.5,-40)(8,-30)(8.5,-21)(9,-15)(9.5,-11)(10,-8)(11,-5)(12,-3)(13,-2)(14,-3)(15,-5)(16,-7)(17,-9)(18,-10)(19,-11)(20,-12)(21.5,-13)(23,-13)(24.5,-13)(26,-13)(27.5,-12)(29,-12)(30.5,-11)(32,-10)(33.5,-9)(35,-8)(36.5,-8)(38,-7)(39.5,-6)(40,-6)};
\addplot[dp] coordinates {(1,-20)(1.5,-23)(2,-27)(3,-32)(4,-35)(5,-37)(6,-38)(7,-39)(8,-40)(9,-40)(10,-40)(11,-39)(12,-38)(13,-37)(14,-35)(15,-33)(16,-31)(17,-30)(18,-29)(19,-27)(20,-26)(21.5,-24)(23,-22)(24.5,-21)(26,-19)(27.5,-18)(29,-17)(30.5,-16)(32,-15)(33.5,-14)(35,-14)(36.5,-13)(38,-13)(39.5,-13)(41,-12)(42,-12)};
\addplot[dp] coordinates {(1.6,-9)(2.2,-13)(3,-22)(3.8,-32)(4.5,-36)(5.5,-38)(6.5,-37)(7.5,-34)(8.5,-30)(9.5,-27)(10.5,-24)(11.5,-22)(12.5,-20)(13.5,-18)(14.5,-17)(15.5,-16)(16.5,-15)(17.5,-14)(18.5,-14)(19.5,-13)(21,-13)(22.5,-12)(24,-11)(25.5,-10)(27,-9)(28.5,-8)(30,-8)(31.5,-7)(33,-7)(34.5,-6)(36,-6)(37.5,-5)(39,-5)(40.5,-4)(42,-4)(43.5,-3)(45,-3)(46.5,-3)(48,-2)(49.5,-2)(51,-2)(52.5,-2)(54,-3)(55.5,-3)(57,-4)(58,-4)};
\addplot[dp] coordinates {(0.5,-25)(1,-28)(2,-33)(3,-36)(4,-38)(5,-40)(6,-41)(7,-41)(8,-41)(9,-40)(10,-39)(11,-37)(12,-35)(13,-33)(14,-31)(15,-29)(17,-26)(19,-24)(21,-22)(23,-20)(25,-18)(27,-17)(29,-15)(31,-14)(33,-13)(35,-12)(37,-11)(39,-10)(41,-9)(43,-8)(45,-7)(47,-6)(49,-5)(51,-4)(53,-3)(55,-2)(57,-1)(59,0)(61,1)(63,2)(65,2)};
\addplot[dp] coordinates {(2,-20)(3,-26)(4,-30)(5,-32)(6,-33)(7,-34)(8,-34)(9,-33)(10,-32)(11,-30)(12,-28)(13,-26)(14,-25)(15,-24)(17,-22)(19,-20)(21,-19)(23,-18)(25,-17)(27,-16)(29,-15)(31,-14)(33,-13)(35,-12)(37,-11)(39,-10)(41,-9)(43,-8)(45,-7)(47,-6)(49,-6)(51,-5)(53,-5)(55,-4)(57,-4)(59,-3)(61,-3)(63,-2)};
\addplot[dp] coordinates {(3,-45)(4,-50)(5,-53)(6,-54)(7,-53)(8,-51)(9,-48)(10,-45)(11,-42)(12,-40)(13,-38)(14,-36)(15,-34)(17,-31)(19,-28)(21,-26)(23,-24)(25,-22)(27,-20)(29,-19)(31,-18)(33,-17)(35,-16)(37,-15)(39,-14)(41,-13)(43,-12)(45,-12)(47,-11)(49,-10)};
\end{axis}
\end{tikzpicture}
\end{document}
